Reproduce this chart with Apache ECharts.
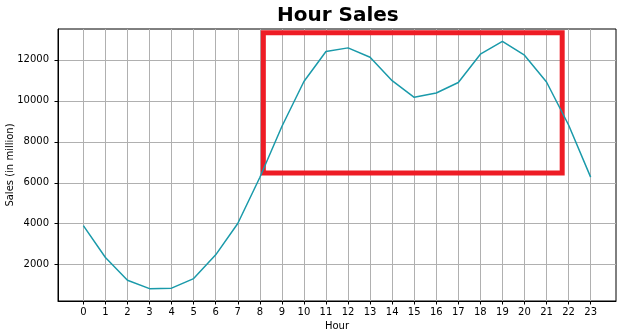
<!DOCTYPE html>
<html>
<head>
<meta charset="utf-8">
<script src="https://cdn.jsdelivr.net/npm/echarts@6/dist/echarts.min.js"></script>
<style>html,body{margin:0;padding:0;background:#fff}#c{width:634px;height:333px}</style>
</head>
<body>
<div id="c"></div>
<script>
const hours = [0,1,2,3,4,5,6,7,8,9,10,11,12,13,14,15,16,17,18,19,20,21,22,23];
const sales = [3910,2350,1243,831,854,1321,2482,4011,6256,8748,10944,12411,12587,12129,10984,10175,10384,10899,12280,12905,12228,10921,8822,6275];
const yTicks = [2000,4000,6000,8000,10000,12000];
const boxX = [8.16, 21.71];
const boxY = [6478, 13330];

const chart = echarts.init(document.getElementById('c'), null, {renderer:'canvas'});
const font = 'DejaVu Sans';
chart.setOption({
  animation: false,
  backgroundColor: '#fff',
  title: {
    text: 'Hour Sales', left: 277, top: 6, padding: 0,
    textStyle: {fontFamily: font, fontWeight: 'bold', fontSize: 20, color: '#000'}
  },
  grid: {left: 58, right: 18, top: 29, bottom: 32, show: true, borderColor: '#000', borderWidth: 1, outerBoundsMode: 'none', containLabel: false},
  xAxis: {
    type: 'value', min: -1.15, max: 24.15,
    name: 'Hour', nameLocation: 'middle', nameGap: 20, nameMoveOverlap: false,
    nameTextStyle: {fontFamily: font, fontSize: 10, color: '#000'},
    axisLine: {show: true, onZero: false, lineStyle: {color: '#000', width: 1}},
    axisTick: {show: true, customValues: hours, length: 3.5, lineStyle: {color: '#000'}},
    axisLabel: {customValues: hours, margin: 6, fontFamily: font, fontSize: 10, color: '#000'},
    splitLine: {show: true, customValues: hours, lineStyle: {color: '#b0b0b0', width: 1}}
  },
  yAxis: {
    type: 'value', min: 227, max: 13509,
    name: 'Sales (in million)', nameLocation: 'middle', nameGap: 43, nameMoveOverlap: false,
    nameTextStyle: {fontFamily: font, fontSize: 10, color: '#000'},
    axisLine: {show: true, onZero: false, lineStyle: {color: '#000', width: 1}},
    axisTick: {show: true, customValues: yTicks, length: 3.5, lineStyle: {color: '#000'}},
    axisLabel: {customValues: yTicks, margin: 9, fontFamily: font, fontSize: 10, color: '#000', formatter: v => String(v)},
    splitLine: {show: true, customValues: yTicks, lineStyle: {color: '#b0b0b0', width: 1}}
  },
  series: [{
    type: 'line',
    data: hours.map((h, i) => [h, sales[i]]),
    symbol: 'none',
    lineStyle: {color: '#1a9aaa', width: 1.5},
    markArea: {
      silent: true,
      itemStyle: {color: 'rgba(0,0,0,0)', borderColor: '#ee1c25', borderWidth: 5},
      data: [[{coord: [boxX[0], boxY[1]]}, {coord: [boxX[1], boxY[0]]}]]
    }
  }]
});
</script>
</body>
</html>
